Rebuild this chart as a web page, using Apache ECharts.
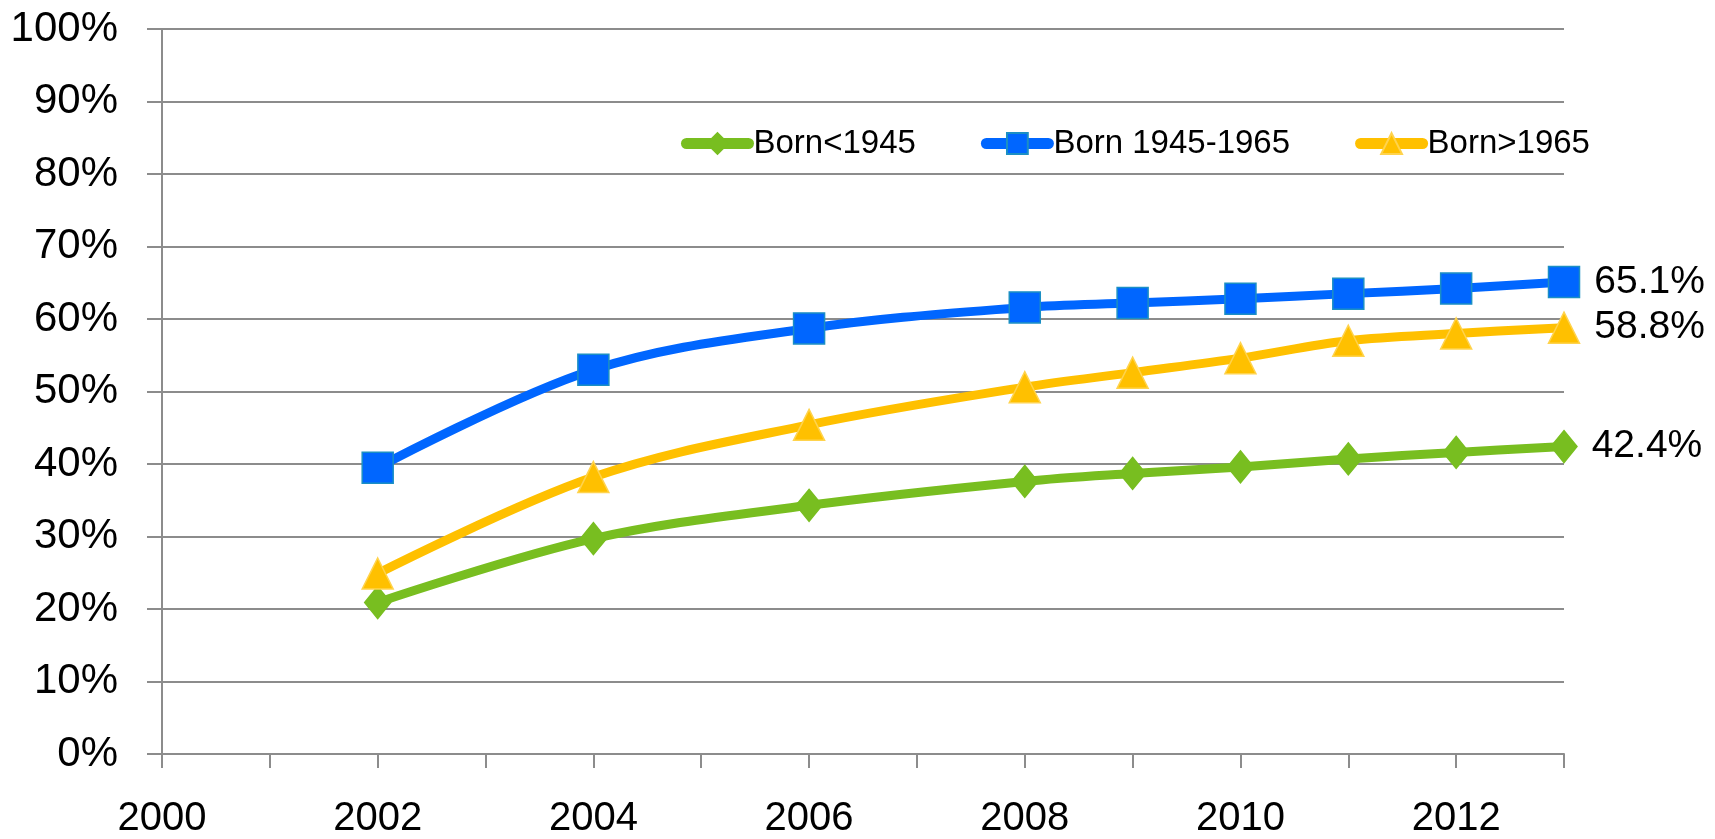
<!DOCTYPE html>
<html>
<head>
<meta charset="utf-8">
<script src="https://cdn.jsdelivr.net/npm/echarts@6/dist/echarts.min.js"></script>
<style>
	html, body { margin: 0; padding: 0; background: #fff; }
	#chart { width: 1715px; height: 839px; }
</style>
</head>
<body>
<div id="chart"></div>
<script>
// data
var years = [2002, 2004, 2006, 2008, 2009, 2010, 2011, 2012, 2013];
var bornBefore1945 = [20.9, 29.7, 34.3, 37.6, 38.7, 39.6, 40.7, 41.6, 42.4];
var born1945to1965 = [39.5, 53.0, 58.7, 61.6, 62.2, 62.8, 63.5, 64.2, 65.1];
var bornAfter1965 = [24.9, 38.2, 45.4, 50.6, 52.6, 54.6, 57.0, 58.0, 58.8];
var seriesNames = ['Born<1945', 'Born 1945-1965', 'Born>1965'];
var yearLabels = [2000, 2002, 2004, 2006, 2008, 2010, 2012];

var FONT = 'Liberation Sans';

function pairs(values) {
	var out = [];
	for (var i = 0; i < years.length; i++) {
		out.push([years[i], values[i]]);
	}
	return out;
}

function lastLabel(p) {
	return p.dataIndex === years.length - 1 ? p.value[1].toFixed(1) + '%' : '';
}

function makeSeries(name, values, color, symbol, size, border) {
	return {
		name: name,
		type: 'line',
		data: pairs(values),
		smooth: 0.35,
		symbol: symbol,
		symbolSize: size,
		showAllSymbol: true,
		lineStyle: { color: color, width: 9 },
		itemStyle: { color: color, borderColor: border, borderWidth: 1.5 },
		label: {
			show: true,
			position: 'right',
			distance: 14,
			formatter: lastLabel,
			color: '#000',
			fontFamily: FONT,
			fontSize: 39
		},
		emphasis: { disabled: true },
		z: 3
	};
}

var chart = echarts.init(document.getElementById('chart'), null, { renderer: 'canvas' });

chart.setOption({
	backgroundColor: '#fff',
	animation: false,
	grid: { left: 162, top: 29, width: 1402, height: 730, containLabel: false },
	legend: {
		left: 676,
		top: 122,
		itemWidth: 62,
		itemHeight: 26,
		itemGap: 65,
		data: seriesNames,
		lineStyle: { width: 11, cap: 'round' },
		textStyle: { fontFamily: FONT, fontSize: 33, color: '#000' }
	},
	xAxis: {
		type: 'value',
		min: 2000,
		max: 2013,
		interval: 1,
		axisLine: { lineStyle: { color: '#8c8c8c', width: 2 } },
		axisTick: { show: true, length: 14, lineStyle: { color: '#8c8c8c', width: 2 } },
		splitLine: { show: false },
		axisLabel: {
			margin: 45,
			fontFamily: FONT,
			fontSize: 40,
			color: '#000',
			formatter: function (v) {
				return yearLabels.indexOf(v) >= 0 ? String(v) : '';
			}
		}
	},
	yAxis: {
		type: 'value',
		min: 0,
		max: 100,
		interval: 10,
		axisLine: { show: true, lineStyle: { color: '#8c8c8c', width: 2 } },
		axisTick: { show: true, length: 15, lineStyle: { color: '#8c8c8c', width: 2 } },
		splitLine: { lineStyle: { color: '#8c8c8c', width: 2 } },
		axisLabel: {
			margin: 44,
			fontFamily: FONT,
			fontSize: 42,
			color: '#000',
			formatter: '{value}%'
		}
	},
	series: [
		makeSeries(seriesNames[0], bornBefore1945, '#78BE20', 'diamond', [26, 32], '#78BE20'),
		makeSeries(seriesNames[1], born1945to1965, '#0066FF', 'rect', 31, '#1B8FC4'),
		makeSeries(seriesNames[2], bornAfter1965, '#FFC000', 'triangle', 31, '#FFD34D')
	]
});
</script>
</body>
</html>
